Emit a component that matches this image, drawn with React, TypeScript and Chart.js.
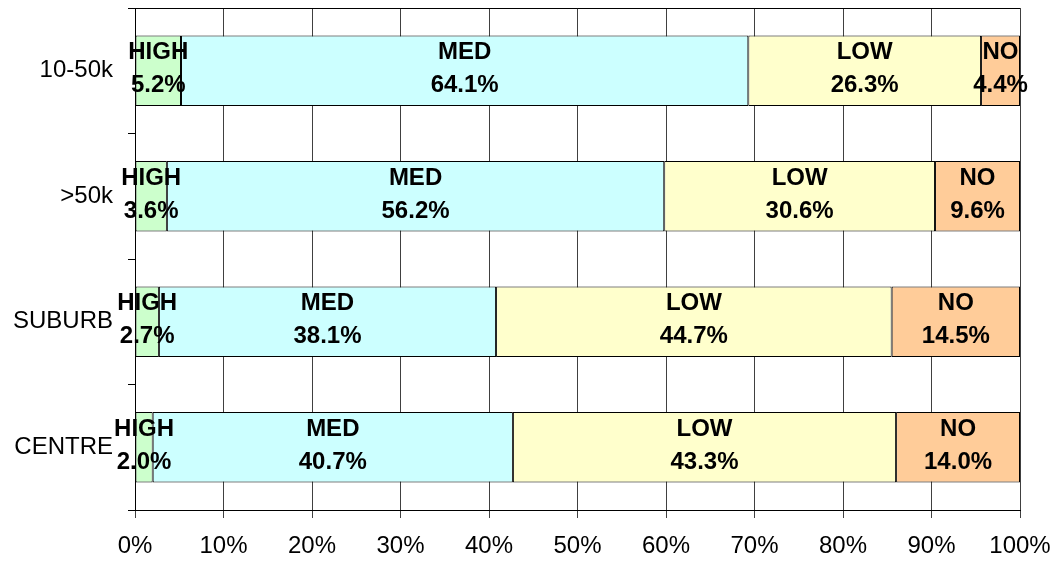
import React, { useEffect, useRef } from "react";
import { Chart, registerables } from "chart.js";

Chart.register(...registerables);

const categories = ["10-50k", ">50k", "SUBURB", "CENTRE"];
const seriesNames = ["HIGH", "MED", "LOW", "NO"];
const highValues = [5.2, 3.6, 2.7, 2.0];
const medValues = [64.1, 56.2, 38.1, 40.7];
const lowValues = [26.3, 30.6, 44.7, 43.3];
const noValues = [4.4, 9.6, 14.5, 14.0];
const seriesColors = ["#CCFFCC", "#CCFFFF", "#FFFFCC", "#FFCC99"];
const xTicks = [0, 10, 20, 30, 40, 50, 60, 70, 80, 90, 100];

const FONT = "'Liberation Sans', Arial, sans-serif";

const segmentLabels = {
  id: "segmentLabels",
  afterDatasetsDraw(chart: any) {
    const ctx = chart.ctx;
    ctx.save();
    ctx.font = `bold 24px ${FONT}`;
    ctx.fillStyle = "#000";
    ctx.textAlign = "center";
    ctx.textBaseline = "middle";
    chart.data.datasets.forEach((ds: any, di: number) => {
      const meta = chart.getDatasetMeta(di);
      meta.data.forEach((el: any, i: number) => {
        const v = ds.data[i];
        const cx = (el.x + el.base) / 2;
        ctx.fillText(ds.label, cx, el.y - 18);
        ctx.fillText(v.toFixed(1) + "%", cx, el.y + 15);
      });
    });
    ctx.restore();
  },
};

const topBorder = {
  id: "topBorder",
  afterDraw(chart: any) {
    const { ctx, chartArea } = chart;
    ctx.save();
    ctx.strokeStyle = "#000";
    ctx.lineWidth = 1;
    ctx.beginPath();
    ctx.moveTo(chartArea.left, chartArea.top + 0.5);
    ctx.lineTo(chartArea.right, chartArea.top + 0.5);
    ctx.stroke();
    ctx.restore();
  },
};

export default function App() {
  const ref = useRef<HTMLCanvasElement>(null);
  useEffect(() => {
    document.body.style.margin = "0";
    const valueSets = [highValues, medValues, lowValues, noValues];
    const chart = new Chart(ref.current!, {
      type: "bar",
      data: {
        labels: categories,
        datasets: seriesNames.map((name, i) => ({
          label: name,
          data: valueSets[i],
          backgroundColor: seriesColors[i],
          borderColor: "#000",
          borderWidth: 1,
          borderSkipped: false,
          barPercentage: 0.56,
          categoryPercentage: 1,
        })),
      },
      options: {
        indexAxis: "y",
        responsive: false,
        devicePixelRatio: 1,
        animation: false,
        layout: { padding: { left: 0, top: 8, right: 37, bottom: 0 } },
        plugins: {
          legend: { display: false },
          tooltip: { enabled: false },
        },
        scales: {
          x: {
            stacked: true,
            min: 0,
            max: 100,
            afterBuildTicks: (scale: any) => {
              scale.ticks = xTicks.map((v) => ({ value: v }));
            },
            afterFit: (scale: any) => {
              scale.height = 55;
              scale.paddingLeft = 0;
              scale.paddingRight = 0;
              scale.paddingTop = 0;
              scale.paddingBottom = 0;
            },
            grid: { color: "#404040", lineWidth: 1, tickLength: 8 },
            border: { color: "#000", width: 1 },
            ticks: {
              color: "#000",
              font: { family: FONT, size: 24 },
              padding: 14,
              maxRotation: 0,
              callback: (v: any) => v + "%",
            },
          },
          y: {
            stacked: true,
            afterFit: (scale: any) => {
              scale.width = 135;
              scale.paddingLeft = 0;
              scale.paddingRight = 0;
              scale.paddingTop = 0;
              scale.paddingBottom = 0;
            },
            grid: {
              offset: true,
              drawOnChartArea: false,
              color: "#000",
              tickLength: 7,
            },
            border: { color: "#000", width: 1 },
            ticks: {
              color: "#000",
              font: { family: FONT, size: 24 },
              padding: 15,
            },
          },
        },
      },
      plugins: [segmentLabels, topBorder],
    });
    return () => chart.destroy();
  }, []);
  return (
    <div style={{ position: "absolute", left: 0, top: 0, width: 1057, height: 565 }}>
      <canvas ref={ref} width={1057} height={565} />
    </div>
  );
}
